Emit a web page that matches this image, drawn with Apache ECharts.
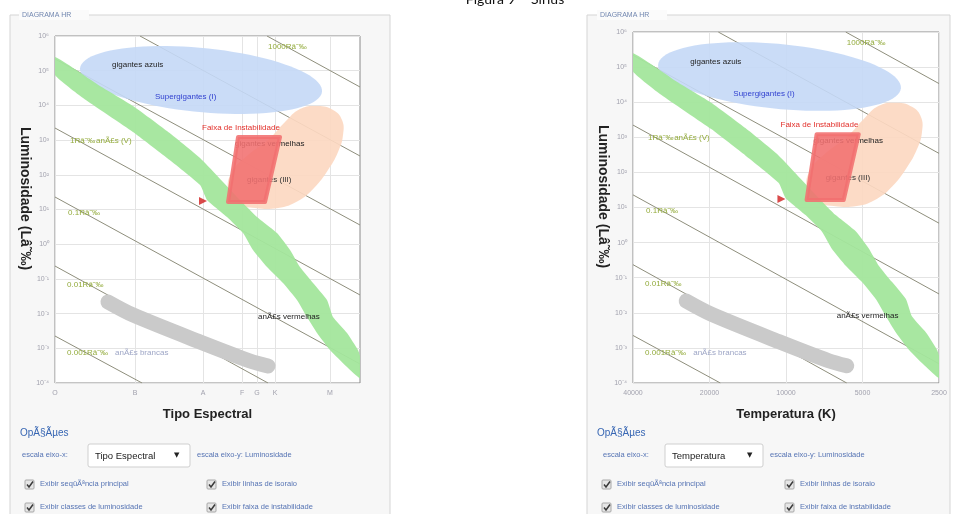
<!DOCTYPE html>
<html>
<head>
<meta charset="utf-8">
<script src="https://cdn.jsdelivr.net/npm/echarts@6/dist/echarts.min.js"></script>
<style>
html,body{margin:0;padding:0;background:#fff;}
#chart{width:960px;height:514px;}
</style>
</head>
<body>
<div id="chart"></div>
<script>
// Temperatures in K, luminosities in solar units.
const lumTicks = [1e-4, 1e-3, 1e-2, 1e-1, 1, 1e1, 1e2, 1e3, 1e4, 1e5, 1e6];
const tempTicks = [40000, 20000, 10000, 5000, 2500];
const spectralTicks = [40000, 19330, 10420, 7306, 6376, 5414, 3284];
const spectralNames = ['O', 'B', 'A', 'F', 'G', 'K', 'M'];

// Lines of constant radius (R in solar radii), two ends each
const isoRadii = ['1000', '100', '10', '1', '0.1', '0.01', '0.001'];
const isoLines = [
  [[5821, 1e6], [2500, 33900]],
  [[18470, 1e6], [2500, 348]],
  [[40000, 217000], [2500, 3.57]],
  [[40000, 2230], [2500, 0.0344]],
  [[40000, 22.9], [2500, 0.000353]],
  [[40000, 0.235], [5769, 1e-4]],
  [[40000, 0.00226], [18130, 1e-4]]
];

// Main sequence band: upper and lower edges
const mainSeqUpper = [[40000, 248000], [26570, 36200], [19690, 9620], [14450, 1830], [10700, 305],
  [7440, 18.8], [6376, 6.08], [5316, 2.10], [4723, 0.681], [4315, 0.220], [3832, 0.0762],
  [3375, 0.0247], [3196, 0.00798], [2813, 0.00276], [2546, 0.000893], [2500, 0.000600]];
const mainSeqLower = [[40000, 75200], [31000, 16300], [19690, 1710], [14450, 305], [10700, 50.8],
  [10040, 18.8], [8375, 6.08], [7240, 2.10], [6613, 0.681], [5821, 0.220], [5034, 0.0762],
  [4434, 0.0247], [4047, 0.00798], [3695, 0.00276], [3284, 0.000893], [2813, 0.000289], [2500, 0.000139]];

// Blue giants / supergiants: ends of the long axis and one point on the rim
const giantsAxis = [[31860, 117200], [3531, 24800]];
const giantsRim = [10320, 448000];

// Red giants region outline
const redGiants = [[4313, 7877], [3662, 9610], [3195, 7370], [2944, 3796], [2917, 1403], [3053, 454],
  [3344, 137.5], [3797, 41.6], [4392, 17.6], [5266, 11.05], [6494, 11.05], [7716, 15.4],
  [8299, 36.5], [8003, 120.5], [6921, 372], [5769, 1007], [4943, 3323]];

// Instability strip corners
const instabilityStrip = [[7577, 1228], [5172, 1228], [5928, 16.4], [8299, 16.4]];

// White dwarf sequence (centre line)
const whiteDwarfs = [[24710, 0.0216], [19690, 0.00912], [10700, 0.00152], [6796, 0.000431], [5769, 0.000309]];

// Sirius
const sirius = [10420, 17.6];

// Text labels: [text, T, L] (left end, vertical middle)
const isoLabels = [['1000Râ˜‰', 5769, 482000], ['1Râ˜‰', 34900, 942], ['0.1Râ˜‰', 35530, 7.93],
  ['0.01Râ˜‰', 35850, 0.0667], ['0.001Râ˜‰', 35850, 0.000733]];
const classLabels = [['anÃ£s (V)', 27550, 942], ['gigantes azuis', 23820, 146000],
  ['Supergigantes (I)', 16120, 17460], ['Faixa de Instabilidade', 10510, 2230],
  ['gigantes vermelhas', 7787, 773], ['anÃ£s vermelhas', 6318, 0.00798], ['anÃ£s brancas', 23180, 0.000733]];
const giantsIIILabel = [['gigantes (III)', 6982, 70.8]];

// ---------------------------------------------------------------
const FONT = '"Liberation Sans", Arial, sans-serif';
const classColor = {
  'anÃ£s (V)': '#93ab3c', 'gigantes azuis': '#222', 'Supergigantes (I)': '#2f3fcf',
  'Faixa de Instabilidade': '#e2302b', 'gigantes vermelhas': '#222', 'anÃ£s vermelhas': '#222',
  'anÃ£s brancas': '#9ea6c6'
};
const sup = {'-': '⁻', '0': '⁰', '1': '¹', '2': '²', '3': '³', '4': '⁴', '5': '⁵', '6': '⁶', '7': '⁷', '8': '⁸', '9': '⁹'};
function powLabel(v) {
  const e = Math.round(Math.log10(v));
  return '10' + String(e).split('').map(c => sup[c]).join('');
}
function nearestIndex(list, v) {
  let best = 0, d = Infinity;
  list.forEach((t, i) => { const dd = Math.abs(Math.log(t) - Math.log(v)); if (dd < d) { d = dd; best = i; } });
  return best;
}

function polygonSeries(i, pts, style, z, smooth) {
  return {
    type: 'custom', coordinateSystem: 'cartesian2d', xAxisIndex: i, yAxisIndex: i,
    silent: true, z: z, clip: true, data: [pts[0]],
    renderItem: (params, api) => ({
      type: 'polygon',
      shape: { points: pts.map(p => api.coord(p)), smooth: smooth || 0 },
      style: style
    })
  };
}

function textSeries(i, labels, colorOf, z) {
  return {
    type: 'custom', coordinateSystem: 'cartesian2d', xAxisIndex: i, yAxisIndex: i,
    silent: true, z: z, clip: false, data: labels.map(l => [l[1], l[2]]),
    renderItem: (params, api) => {
      const l = labels[params.dataIndex];
      const c = api.coord([l[1], l[2]]);
      return {
        type: 'text', x: c[0], y: c[1],
        style: { text: l[0], fill: colorOf(l[0]), font: '8px ' + FONT, align: 'left', verticalAlign: 'middle' }
      };
    }
  };
}

function panelSeries(i) {
  const s = [];
  isoLines.forEach((pts, k) => s.push({
    type: 'line', name: 'R = ' + isoRadii[k], xAxisIndex: i, yAxisIndex: i, data: pts,
    symbol: 'none', silent: true, z: 2, lineStyle: { color: '#8e8e7c', width: 1 }
  }));
  // blue giants / supergiants ellipse
  s.push({
    type: 'custom', coordinateSystem: 'cartesian2d', xAxisIndex: i, yAxisIndex: i,
    silent: true, z: 3, clip: true, data: [giantsRim],
    renderItem: (params, api) => {
      const p0 = api.coord(giantsAxis[0]), p1 = api.coord(giantsAxis[1]), r = api.coord(giantsRim);
      const cx = (p0[0] + p1[0]) / 2, cy = (p0[1] + p1[1]) / 2;
      const dx = p1[0] - p0[0], dy = p1[1] - p0[1];
      const a = Math.hypot(dx, dy) / 2, ux = dx / (2 * a), uy = dy / (2 * a);
      const b = Math.abs((r[0] - cx) * (-uy) + (r[1] - cy) * ux);
      const pts = [];
      for (let k = 0; k < 90; k++) {
        const t = k / 90 * 2 * Math.PI, ca = Math.cos(t) * a, sb = Math.sin(t) * b;
        pts.push([cx + ca * ux - sb * uy, cy + ca * uy + sb * ux]);
      }
      return { type: 'polygon', shape: { points: pts }, style: { fill: 'rgba(196,216,246,0.9)' } };
    }
  });
  s.push(polygonSeries(i, redGiants, { fill: 'rgba(252,216,193,0.92)' }, 3, 0.45));
  s.push(polygonSeries(i, mainSeqUpper.concat(mainSeqLower.slice().reverse()), { fill: 'rgba(163,230,156,0.95)' }, 3, 0.15));
  s.push({
    type: 'line', name: 'anÃ£s brancas', xAxisIndex: i, yAxisIndex: i, data: whiteDwarfs, smooth: 0.3,
    symbol: 'none', silent: true, z: 3, lineStyle: { color: '#cacaca', width: 15, cap: 'round', join: 'round' }
  });
  s.push(textSeries(i, isoLabels, () => '#93ab3c', 4));
  s.push(textSeries(i, classLabels, t => classColor[t], 4));
  s.push(textSeries(i, giantsIIILabel, () => '#333', 4));
  s.push(polygonSeries(i, instabilityStrip,
    { fill: 'rgba(241,112,112,0.88)', stroke: 'rgba(241,112,112,0.88)', lineWidth: 4, lineJoin: 'round' }, 5, 0));
  s.push({
    type: 'scatter', name: 'Sirius', xAxisIndex: i, yAxisIndex: i, data: [sirius], silent: true, z: 6,
    symbol: 'triangle', symbolRotate: -90, symbolSize: [8, 8], itemStyle: { color: '#cf1d1d' }
  });
  return s;
}

function yAxisFor(i) {
  return {
    type: 'log', gridIndex: i, min: 1e-4, max: 1e6, logBase: 10,
    axisLine: { show: false }, axisTick: { show: false, customValues: lumTicks },
    axisLabel: { customValues: lumTicks, formatter: powLabel, fontSize: 7, color: '#a2a2ae', margin: 6, fontFamily: FONT, showMinLabel: true, showMaxLabel: true },
    splitLine: { show: true, lineStyle: { color: '#e4e4e4', width: 1 } },
    name: 'Luminosidade (Lâ˜‰)', nameLocation: 'middle', nameRotate: -90, nameGap: 21,
    nameTextStyle: { fontWeight: 'bold', fontSize: 14, color: '#222', fontFamily: FONT, padding: [0, 22, 0, 0] }
  };
}

function xAxisFor(i, ticks, fmt, title) {
  return {
    type: 'log', gridIndex: i, min: 2500, max: 40000, inverse: true, logBase: 10,
    axisLine: { show: false }, axisTick: { show: false, customValues: ticks },
    axisLabel: { customValues: ticks, formatter: fmt, fontSize: 7, color: '#a2a2ae', margin: 7, fontFamily: FONT, showMinLabel: true, showMaxLabel: true },
    splitLine: { show: true, lineStyle: { color: '#e4e4e4', width: 1 } },
    name: title, nameLocation: 'middle', nameGap: 25,
    nameTextStyle: { fontWeight: 'bold', fontSize: 13, color: '#222', fontFamily: FONT }
  };
}

// ---- page furniture around each plot ----
function checkbox(x, y) {
  return [
    { type: 'rect', z: 10, shape: { x: x, y: y, width: 9, height: 9, r: 1 }, style: { fill: '#e6e6e6', stroke: '#a8a8a8', lineWidth: 1 } },
    { type: 'polyline', z: 11, shape: { points: [[x + 2, y + 4.5], [x + 4, y + 7], [x + 8, y + 1.5]] }, style: { stroke: '#3a3a3a', lineWidth: 1.5, fill: null } }
  ];
}
function txt(x, y, text, fill, font) {
  return { type: 'text', z: 10, x: x, y: y, style: { text: text, fill: fill, font: font, verticalAlign: 'middle' } };
}
function panelUi(p) {
  const small = '7.5px ' + FONT, blue = '#5674b4';
  return [
    { type: 'rect', z: -100, shape: { x: p.fx, y: 15, width: p.fw, height: 540 }, style: { fill: '#f7f7f7', stroke: '#d5d5d5', lineWidth: 1 } },
    { type: 'rect', z: -99, shape: { x: p.lx - 3, y: 10, width: 70, height: 10 }, style: { fill: '#fbfbfb' } },
    txt(p.lx, 15, 'DIAGRAMA HR', '#7287b0', '7px ' + FONT),
    txt(p.ox, 433, 'OpÃ§Ãµes', '#3766b3', '10px ' + FONT),
    txt(p.ex, 455, 'escala eixo-x:', blue, small),
    { type: 'rect', z: 10, shape: { x: p.sx, y: 444, width: p.sw, height: 23, r: 2 }, style: { fill: '#fff', stroke: '#cfcfcf', lineWidth: 1 } },
    txt(p.sx + 7, 456, p.sel, '#222', '9.5px ' + FONT),
    txt(p.sx + p.sw - 16, 455, '▼', '#222', '7px "DejaVu Sans"'),
    txt(p.yx, 455, 'escala eixo-y: Luminosidade', blue, small),
    ...checkbox(p.c1, 480), ...checkbox(p.c2, 480), ...checkbox(p.c1, 503), ...checkbox(p.c2, 503),
    txt(p.c1 + 15, 484, 'Exibir seqüÃªncia principal', blue, small),
    txt(p.c2 + 15, 484, 'Exibir linhas de isoraio', blue, small),
    txt(p.c1 + 15, 507, 'Exibir classes de luminosidade', blue, small),
    txt(p.c2 + 15, 507, 'Exibir faixa de instabilidade', blue, small)
  ];
}

const chart = echarts.init(document.getElementById('chart'), null, { renderer: 'canvas' });
chart.setOption({
  animation: false,
  backgroundColor: '#fff',
  textStyle: { fontFamily: FONT },
  grid: [
    { left: 55, top: 36, width: 305, height: 347, show: true, backgroundColor: '#fff', borderColor: '#8a8a8a', borderWidth: 1, containLabel: false, outerBoundsMode: 'none' },
    { left: 633, top: 32, width: 306, height: 351, show: true, backgroundColor: '#fff', borderColor: '#8a8a8a', borderWidth: 1, containLabel: false, outerBoundsMode: 'none' }
  ],
  xAxis: [
    xAxisFor(0, spectralTicks, v => spectralNames[nearestIndex(spectralTicks, v)], 'Tipo Espectral'),
    xAxisFor(1, tempTicks, v => String(tempTicks[nearestIndex(tempTicks, v)]), 'Temperatura (K)')
  ],
  yAxis: [yAxisFor(0), yAxisFor(1)],
  series: panelSeries(0).concat(panelSeries(1)),
  graphic: {
    elements: [
      ...panelUi({ fx: 10, fw: 380, lx: 22, ox: 20, ex: 22, sx: 88, sw: 102, sel: 'Tipo Espectral', yx: 197, c1: 25, c2: 207 }),
      ...panelUi({ fx: 587, fw: 363, lx: 600, ox: 597, ex: 603, sx: 665, sw: 98, sel: 'Temperatura', yx: 770, c1: 602, c2: 785 }),
      { type: 'text', z: 10, x: 515, y: -1, style: { text: 'Figura 9 – Sirius', fill: '#111', font: '14px Lato, "Open Sans", sans-serif', align: 'center', verticalAlign: 'middle' } }
    ]
  }
});
</script>
</body>
</html>
